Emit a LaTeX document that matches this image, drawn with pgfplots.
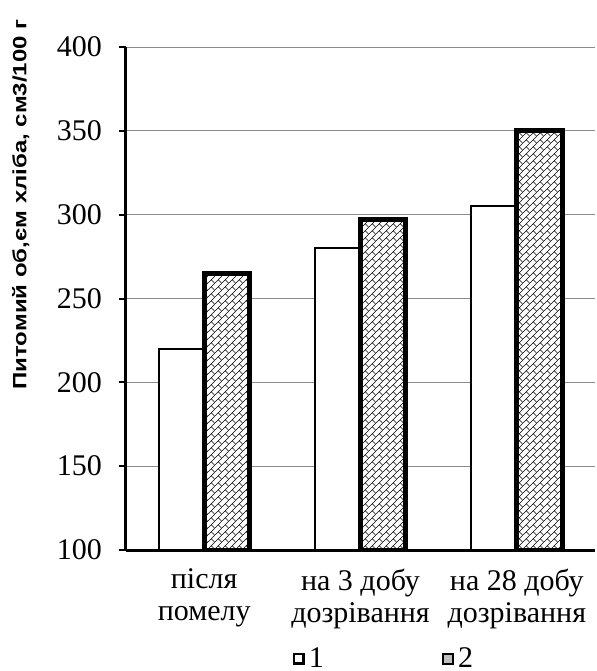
\documentclass[border=0pt]{standalone}
\usepackage{pgfplots}
\pgfplotsset{compat=1.18}
\usepackage{fontspec}
\setmainfont{Liberation Serif}
\newfontfamily\arialfont{Liberation Sans}
\usetikzlibrary{patterns.meta}

\pgfdeclarepattern{
 name=bricks, type=uncolored,
 bottom left={\pgfpoint{0pt}{0pt}}, top right={\pgfpoint{3.6pt}{3.6pt}},
 tile size={\pgfpoint{3.6pt}{3.6pt}},
 code={
  \pgfsetlinewidth{0.3pt}
  \pgfpathmoveto{\pgfpoint{-0.2pt}{-0.2pt}}\pgfpathlineto{\pgfpoint{3.8pt}{3.8pt}}
  \pgfpathmoveto{\pgfpoint{1.8pt}{1.8pt}}\pgfpathlineto{\pgfpoint{3.6pt}{0pt}}
  \pgfusepath{stroke}
 }}

\begin{document}
\begin{tikzpicture}
\begin{axis}[
 scale only axis, width=234.5pt, height=251.5pt,
 xmin=-0.5, xmax=2.5, ymin=100, ymax=400,
 ytick={100,150,...,400},
 /pgf/number format/assume math mode=true,
 axis x line*=bottom, axis y line*=left,
 axis line style={line width=1.5pt, -},
 ymajorgrids, grid style={gray!90, line width=0.5pt},
 xtick={0,1,2},
 xticklabels={{після\\помелу},{на 3 добу\\дозрівання},{на 28 добу\\дозрівання}},
 xticklabel style={align=center, font=\fontsize{15}{16}\selectfont, yshift=-2.5pt},
 yticklabel style={font=\fontsize{15}{16}\selectfont, xshift=-5pt},
 major x tick style={draw=none},
 extra x ticks={-0.5,0.5,1.5,2.5}, extra x tick labels={},
 extra x tick style={grid=none, major tick style={draw=black, line width=1pt}, major tick length=4pt},
 ytick style={line width=1pt, black}, tick align=outside, major tick length=3.5pt,
 ylabel={\scalebox{1}[0.8]{\fontsize{12}{14}\arialfont\bfseries Питомий об,єм хліба, см3/100 г}},
 ylabel style={at={(axis description cs:-0.2245,0.687)}, anchor=center, rotate=0},
 legend columns=2,
 legend style={draw=none, at={(0.552,-0.216)}, anchor=center, font=\fontsize{15}{16}\selectfont,
   inner sep=0pt, /tikz/every even column/.append style={column sep=57pt}},
]
\addplot[ybar, bar width=0.29, bar shift=-0.145, draw=black, line width=1pt, fill=white,
  legend image code/.code={\draw[black, line width=1.3pt, fill=white] (0pt,-2.4pt) rectangle (4.8pt,2.4pt);}]
  coordinates {(0,220) (1,280) (2,305)};
\addlegendentry{1}
\addplot[ybar, bar width=0.29, bar shift=0.145, draw=black, line width=2.5pt, fill=white,
  postaction={pattern=bricks},
  legend image code/.code={\filldraw[black, line width=1.3pt] (0pt,-2.4pt) rectangle (4.8pt,2.4pt);
    \fill[gray!50] (1.7pt,-0.7pt) rectangle (3.1pt,0.7pt);}]
  coordinates {(0,265) (1,297) (2,350)};
\addlegendentry{2}
\coordinate (A) at (rel axis cs:0,0);
\coordinate (B) at (rel axis cs:1,1);
\end{axis}
\pgfresetboundingbox
\path ([xshift=-63pt,yshift=-60.5pt]A) rectangle ([xshift=1pt,yshift=23.5pt]B);
\end{tikzpicture}
\end{document}
